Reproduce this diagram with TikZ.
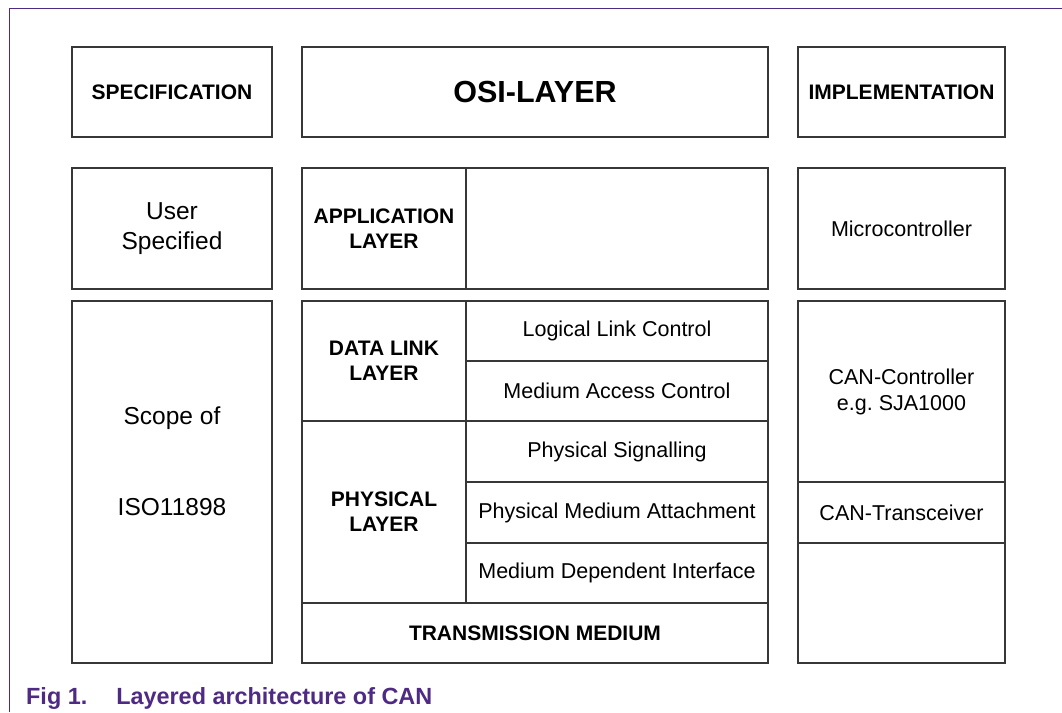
\documentclass[tikz,border=0pt]{standalone}
\usepackage{fontspec}
\setmainfont{Liberation Sans}
\definecolor{nxppurple}{RGB}{78,42,132}
\definecolor{boxline}{RGB}{55,55,55}
\frenchspacing
\begin{document}
\begin{tikzpicture}[x=1pt,y=-1pt,
  cell/.style={draw=boxline,line width=1.3pt,rectangle,inner sep=0pt,align=center},
  hdr/.style={font=\fontsize{21}{25}\selectfont\bfseries},
  big/.style={font=\fontsize{30.5}{34}\selectfont\bfseries},
  sub/.style={font=\fontsize{21.5}{26}\selectfont},
  lrg/.style={font=\fontsize{24.5}{30}\selectfont},
  txt/.style={inner sep=0pt,align=center}]
\useasboundingbox (0,0) rectangle (1062,712);
% frame
\draw[nxppurple,line width=1pt] (9,712) -- (9,8) -- (1062,8);
% headers
\node[cell,hdr,minimum width=200,minimum height=90] (spec) at (172,92) {SPECIFICATION};
\node[cell,big,minimum width=466,minimum height=90] (osi) at (535,92) {OSI-LAYER};
\node[cell,hdr,minimum width=207,minimum height=90] (impl) at (901.5,92) {IMPLEMENTATION};
% left column
\node[cell,lrg,minimum width=200,minimum height=121] (user) at (172,228.5) {User\\Specified};
\node[cell,minimum width=200,minimum height=362] (scope) at (172,482) {};
\node[txt,lrg] (scopetxt) at (172,461.5) {Scope of\\[61pt]ISO11898};
% middle column
\node[cell,hdr,minimum width=164,minimum height=121] (app) at (384,228.5) {APPLICATION\\LAYER};
\node[cell,minimum width=302,minimum height=121] (appr) at (617,228.5) {};
\node[cell,hdr,minimum width=164,minimum height=120] (dll) at (384,361) {DATA LINK\\LAYER};
\node[cell,sub,minimum width=302,minimum height=60] (llc) at (617,331) {Logical Link Control};
\node[cell,sub,minimum width=302,minimum height=60] (mac) at (617,391) {Medium Access Control};
\node[cell,hdr,minimum width=164,minimum height=182] (phy) at (384,512) {PHYSICAL\\LAYER};
\node[cell,sub,minimum width=302,minimum height=61] (ps) at (617,451.5) {Physical Signalling};
\node[cell,sub,minimum width=302,minimum height=61] (pma) at (617,512.5) {Physical Medium Attachment};
\node[cell,sub,minimum width=302,minimum height=60] (mdi) at (617,573) {Medium Dependent Interface};
\node[cell,hdr,minimum width=466,minimum height=60] (tm) at (535,633) {TRANSMISSION MEDIUM};
% right column
\node[cell,sub,minimum width=207,minimum height=121] (mc) at (901.5,228.5) {Microcontroller};
\node[cell,sub,minimum width=207,minimum height=181] (canc) at (901.5,391.5) {CAN-Controller\\e.g. SJA1000};
\node[cell,sub,minimum width=207,minimum height=61] (cant) at (901.5,512.5) {CAN-Transceiver};
\node[cell,minimum width=207,minimum height=120] (empty) at (901.5,603) {};
% caption
\node[anchor=base west,inner sep=0pt,text=nxppurple,font=\fontsize{23.4}{28}\selectfont\bfseries] (cap) at (26,704) {Fig 1.\hspace{29pt}Layered architecture of CAN};
\end{tikzpicture}
\end{document}
